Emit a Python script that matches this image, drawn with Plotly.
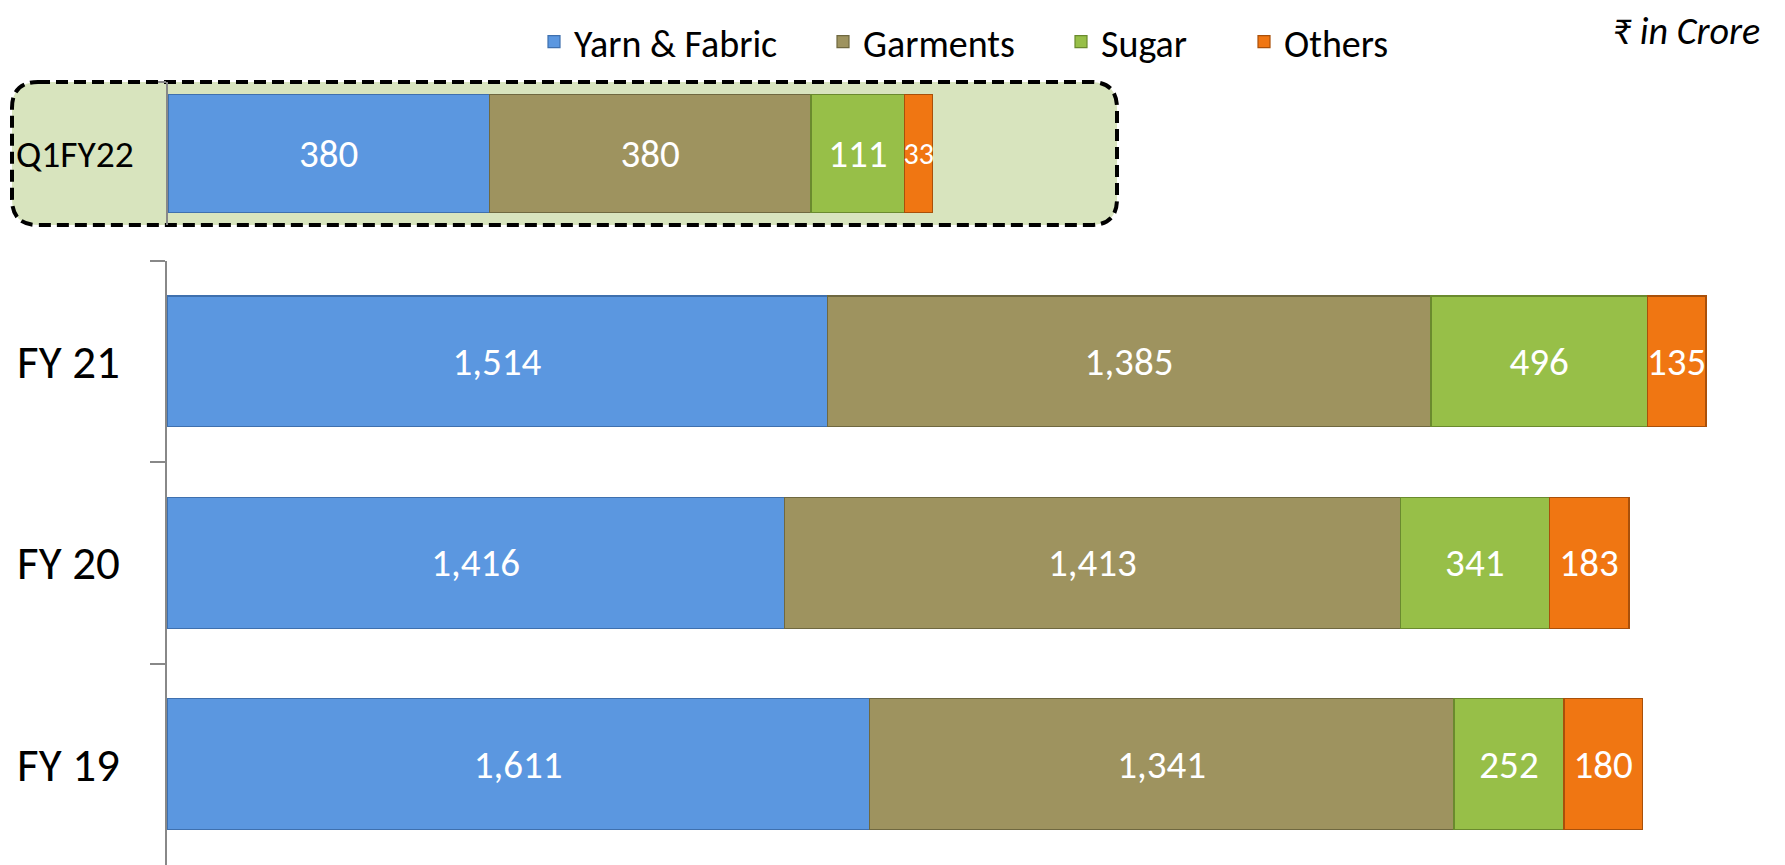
import plotly.graph_objects as go

# ---- data ----
segments = ["Yarn & Fabric", "Garments", "Sugar", "Others"]
years = ["FY 21", "FY 20", "FY 19"]
yarn_fabric = [1514, 1416, 1611]
garments = [1385, 1413, 1341]
sugar = [496, 341, 252]
others = [135, 183, 180]

quarter = ["Q1FY22"]
q_yarn_fabric = [380]
q_garments = [380]
q_sugar = [111]
q_others = [33]

colors = ["#5B97E0", "#9E935F", "#97BF48", "#F07612"]
edge_colors = ["#3F70AE", "#6F6840", "#6A8A2E", "#A9500A"]

FONT = "Carlito, Calibri, Lato, sans-serif"
W, H = 1785, 865

fig = go.Figure()

annual = [yarn_fabric, garments, sugar, others]
qtr = [q_yarn_fabric, q_garments, q_sugar, q_others]
legend_ids = ["legend", "legend2", "legend3", "legend4"]
legend_x = [534, 823, 1061, 1244]

for name, vals, c, ec, lg in zip(segments, annual, colors, edge_colors, legend_ids):
    fig.add_trace(go.Bar(
        y=years, x=vals, orientation="h", name=name,
        marker=dict(color=c, line=dict(color=ec, width=1.2)),
        width=0.65,
        text=[f"{v:,}" for v in vals], texttemplate="%{text}",
        textposition="inside", insidetextanchor="middle", constraintext="none",
        textangle=0,
        textfont=dict(family=FONT, size=39, color="white"),
        xaxis="x", yaxis="y", showlegend=True, legend=lg,
    ))

q_sizes = [39, 39, 39, 30]
for name, vals, c, ec, fs in zip(segments, qtr, colors, edge_colors, q_sizes):
    fig.add_trace(go.Bar(
        y=quarter, x=vals, orientation="h", name=name,
        marker=dict(color=c, line=dict(color=ec, width=1.2)),
        width=0.825,
        text=[f"{v:,}" for v in vals], texttemplate="%{text}",
        textposition="inside", insidetextanchor="middle", constraintext="none",
        textangle=0,
        textfont=dict(family=FONT, size=fs, color="white"),
        xaxis="x2", yaxis="y2", showlegend=False,
    ))

# rounded dashed box behind the quarter chart (paper coordinates)
x0, x1 = 12 / W, 1117 / W
ytop, ybot = 1 - 82 / H, 1 - 225 / H
rx, ry = 26 / W, 26 / H
path = (f"M{x0+rx},{ytop} L{x1-rx},{ytop} Q{x1},{ytop} {x1},{ytop-ry} "
        f"L{x1},{ybot+ry} Q{x1},{ybot} {x1-rx},{ybot} "
        f"L{x0+rx},{ybot} Q{x0},{ybot} {x0},{ybot+ry} "
        f"L{x0},{ytop-ry} Q{x0},{ytop} {x0+rx},{ytop} Z")
fig.add_shape(type="path", path=path, xref="paper", yref="paper",
              fillcolor="#D8E4BE", line=dict(color="black", width=4, dash="12px,6px"),
              layer="below")

fig.add_annotation(text="₹ in Crore", xref="paper", yref="paper",
                   x=1762 / W, y=1 - 31 / H, xanchor="right", yanchor="middle",
                   showarrow=False,
                   font=dict(family=FONT, size=38, color="black", style="italic"))

legend_common = dict(orientation="h", xanchor="left", y=1 - 42 / H, yanchor="middle",
                     font=dict(family=FONT, size=38, color="black"),
                     bgcolor="rgba(0,0,0,0)")
legends = {lg: dict(x=lx / W, **legend_common) for lg, lx in zip(legend_ids, legend_x)}

fig.update_layout(
    width=W, height=H, barmode="stack",
    margin=dict(l=0, r=0, t=0, b=0),
    paper_bgcolor="white", plot_bgcolor="rgba(0,0,0,0)",
    font=dict(family=FONT, color="black"),
    xaxis=dict(domain=[167 / W, 1.0], range=[0, (W - 167) / 0.436],
               showgrid=False, zeroline=False, showticklabels=False, showline=False),
    yaxis=dict(domain=[0, 1 - 260.7 / H], autorange="reversed",
               showline=True, linecolor="#888888", linewidth=1.5,
               ticks="outside", ticklen=15, tickcolor="#888888", tickwidth=1.5,
               tickson="boundaries", ticklabelstandoff=36,
               tickfont=dict(family=FONT, size=47, color="black"), showgrid=False),
    xaxis2=dict(domain=[168 / W, 0.6], range=[0, (0.6 * W - 168) / 0.846], anchor="y2",
                showgrid=False, zeroline=False, showticklabels=False, showline=False),
    yaxis2=dict(domain=[1 - 225 / H, 1 - 82 / H], anchor="x2",
                showline=True, linecolor="#888888", linewidth=1.5,
                ticks="outside", ticklen=8, tickcolor="#888888", tickwidth=1.5,
                tickson="boundaries", ticklabelstandoff=25,
                tickfont=dict(family=FONT, size=37.5, color="black"), showgrid=False),
    **legends,
)

fig.write_html("out.html", config={"displayModeBar": False},
               post_script="document.body.style.margin='0';")
